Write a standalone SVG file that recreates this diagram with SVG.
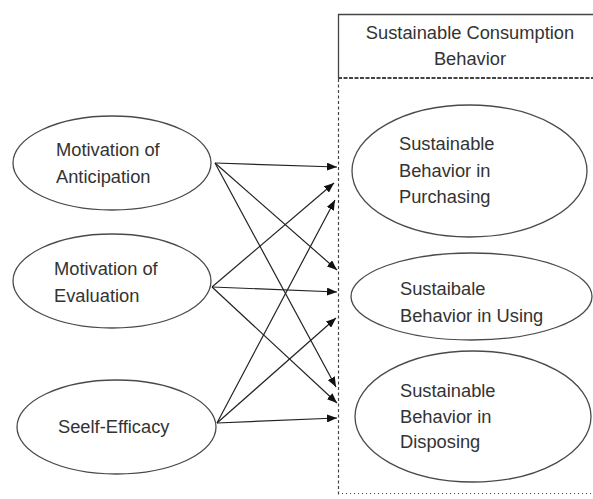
<svg xmlns="http://www.w3.org/2000/svg" width="593" height="499" viewBox="0 0 593 499">
<style>
.bg{fill:#ffffff}
.node ellipse{fill:#ffffff;stroke:#4a4a4a;stroke-width:1.3}
.lbl{font-family:"Liberation Sans",Arial,sans-serif;font-size:18.3px;fill:#333333}
.mid{text-anchor:middle}
.edge{stroke:#222222;stroke-width:1.2;fill:none;marker-end:url(#ah)}
.frame{stroke:#444444;fill:none}
</style>
<defs>
<marker id="ah" viewBox="0 0 10 8" refX="10" refY="4" markerWidth="10" markerHeight="8" markerUnits="userSpaceOnUse" orient="auto">
<path d="M0,0 L10,4 L0,8 Z" fill="#111111"/>
</marker>
</defs>
<rect class="bg" x="0" y="0" width="593" height="499"/>
<g id="frame">
<path class="frame" d="M338.5,78 L338.5,14.5 L593,14.5" stroke-width="1.3"/>
<line class="frame" x1="338" y1="78" x2="593" y2="78" stroke-width="2" stroke-dasharray="4,1.5" stroke="#222"/>
<line class="frame" x1="338.5" y1="79" x2="338.5" y2="497" stroke-width="1.2" stroke-dasharray="3,2.5" stroke="#333"/>
<line class="frame" x1="338" y1="493.5" x2="593" y2="493.5" stroke-width="1" stroke-dasharray="1,3" stroke="#888"/>
</g>
<g id="header">
<text class="lbl mid" x="470" y="39">Sustainable Consumption</text>
<text class="lbl mid" x="470" y="65">Behavior</text>
</g>
<g id="connectors">
<line class="edge" x1="215" y1="163" x2="337" y2="167"/>
<line class="edge" x1="215" y1="163" x2="337" y2="270"/>
<line class="edge" x1="215" y1="163" x2="336" y2="387"/>
<line class="edge" x1="212" y1="287" x2="334" y2="183"/>
<line class="edge" x1="212" y1="287" x2="337" y2="292"/>
<line class="edge" x1="212" y1="287" x2="337" y2="403"/>
<line class="edge" x1="217" y1="423" x2="335" y2="200"/>
<line class="edge" x1="217" y1="423" x2="336" y2="318"/>
<line class="edge" x1="217" y1="423" x2="337" y2="418"/>
</g>
<g id="n-anticipation" class="node">
<ellipse cx="112" cy="163" rx="99" ry="47"/>
<text class="lbl" x="56" y="156">Motivation of</text>
<text class="lbl" x="56" y="183">Anticipation</text>
</g>
<g id="n-evaluation" class="node">
<ellipse cx="112" cy="281" rx="99" ry="47"/>
<text class="lbl" x="54" y="275">Motivation of</text>
<text class="lbl" x="54" y="302">Evaluation</text>
</g>
<g id="n-selfefficacy" class="node">
<ellipse cx="116.5" cy="427" rx="99.5" ry="47"/>
<text class="lbl" x="58" y="433">Seelf-Efficacy</text>
</g>
<g id="n-purchasing" class="node">
<ellipse cx="469.5" cy="171" rx="117.5" ry="66"/>
<text class="lbl" x="399" y="150">Sustainable</text>
<text class="lbl" x="399" y="177">Behavior in</text>
<text class="lbl" x="399" y="203">Purchasing</text>
</g>
<g id="n-using" class="node">
<ellipse cx="471.5" cy="296.5" rx="120.5" ry="43.5"/>
<text class="lbl" x="400" y="295">Sustaibale</text>
<text class="lbl" x="400" y="322">Behavior in Using</text>
</g>
<g id="n-disposing" class="node">
<ellipse cx="473" cy="416.5" rx="118" ry="65.5"/>
<text class="lbl" x="400" y="397">Sustainable</text>
<text class="lbl" x="400" y="423">Behavior in</text>
<text class="lbl" x="400" y="448">Disposing</text>
</g>
</svg>
